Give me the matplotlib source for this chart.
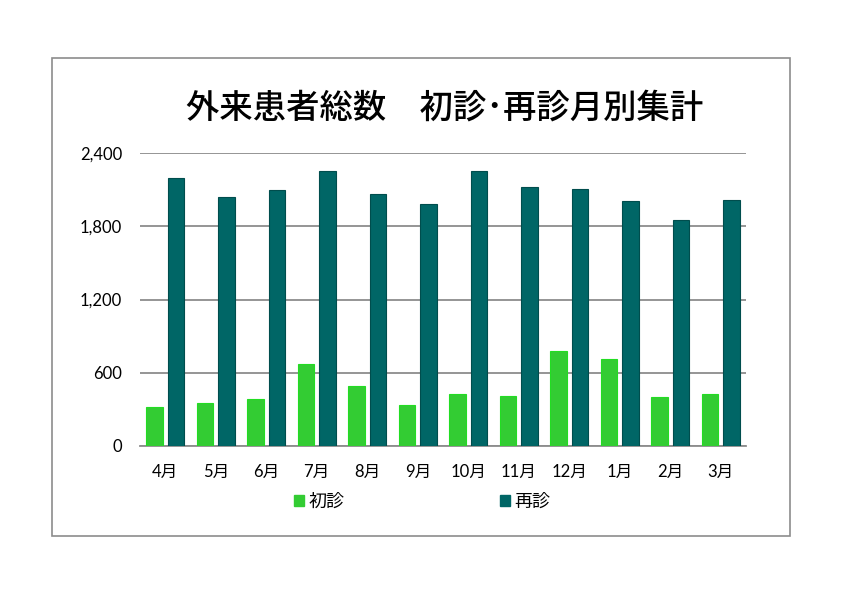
import matplotlib.pyplot as plt
from matplotlib.patches import Rectangle, Patch
from matplotlib.ticker import FuncFormatter

plt.rcParams['font.family'] = ['Lato', 'Noto Sans CJK JP', 'DejaVu Sans']

months = ['4月', '5月', '6月', '7月', '8月', '9月', '10月', '11月', '12月', '1月', '2月', '3月']
shoshin = [323, 350, 386, 668, 488, 337, 422, 408, 775, 714, 402, 424]
saishin = [2195, 2036, 2094, 2250, 2064, 1979, 2253, 2124, 2105, 2003, 1851, 2015]
yticks = [0, 600, 1200, 1800, 2400]

light = '#33CC33'
dark = '#006666'

fig = plt.figure(figsize=(8.42, 5.95), dpi=100)
W, H = 842, 595

# outer chart frame
fig.patches.append(Rectangle((52 / W, 1 - 536 / H), 738 / W, 478 / H,
                             transform=fig.transFigure, fill=False,
                             edgecolor='#8c8c8c', linewidth=1.2))

ax = fig.add_axes([140 / W, 1 - 446 / H, 606 / W, 293 / H])

x = list(range(len(months)))
w = 0.33
ax.bar([i - 0.212 for i in x], shoshin, width=w, color=light,
       edgecolor='#22dd22', linewidth=0.8, label='初診', zorder=3)
ax.bar([i + 0.215 for i in x], saishin, width=w, color=dark,
       edgecolor='#004d4d', linewidth=0.8, label='再診', zorder=3)

ax.set_xlim(-0.5, 11.5)
ax.set_ylim(0, 2400)
ax.set_yticks(yticks)
ax.yaxis.set_major_formatter(FuncFormatter(lambda v, p: f'{int(v):,}'))
ax.set_xticks(x)
ax.set_xticklabels(months)
ax.grid(axis='y', color='#8c8c8c', linewidth=1.3, zorder=0)
ax.tick_params(length=0, labelsize=12, colors='black')
ax.tick_params(axis='x', pad=13)
ax.tick_params(axis='y', pad=13)
for s in ['top', 'right', 'left']:
    ax.spines[s].set_visible(False)
ax.spines['bottom'].set_color('#8c8c8c')
ax.spines['bottom'].set_linewidth(1.3)

fig.text(445 / W, 1 - 108 / H, '外来患者総数　初診･再診月別集計',
         ha='center', va='center', fontsize=24,
         family=['Noto Sans CJK JP', 'DejaVu Sans'], fontweight='medium')

handles = [Patch(facecolor=light, edgecolor=light),
           Patch(facecolor=dark, edgecolor=dark)]
fig.legend(handles, ['初診', '再診'], loc='center',
           bbox_to_anchor=(422 / W, 1 - 502 / H), ncol=2, frameon=False,
           handlelength=0.55, handleheight=0.55,
           handletextpad=0.25, columnspacing=8.6,
           prop={'family': ['Noto Sans CJK JP'], 'size': 13})

fig.savefig('out.png', dpi=100)
